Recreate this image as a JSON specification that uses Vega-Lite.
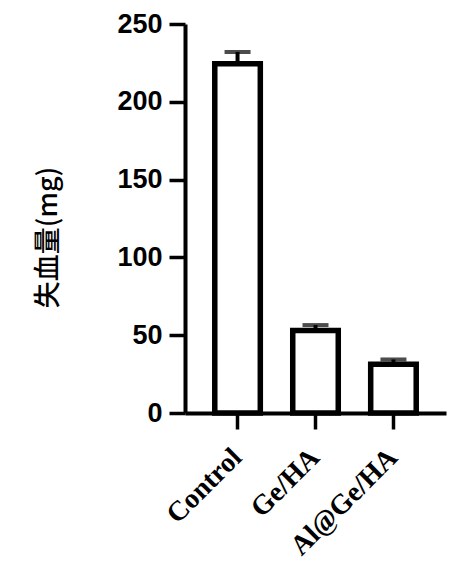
{
  "$schema": "https://vega.github.io/schema/vega-lite/v6.json",
  "autosize": "none",
  "padding": {"left": 185, "top": 24, "right": 3, "bottom": 152},
  "width": 261,
  "height": 389,
  "background": "white",
  "config": {"view": {"stroke": null}},
  "data": {"values": [
    {"group": "Control", "mean": 224.5, "upper": 232},
    {"group": "Ge/HA", "mean": 53, "upper": 56.5},
    {"group": "Al@Ge/HA", "mean": 31.3, "upper": 34.4}
  ]},
  "encoding": {
    "x": {
      "field": "group", "type": "nominal", "sort": null,
      "scale": {"paddingInner": 0.416, "paddingOuter": 0.382},
      "axis": {
        "title": null, "labelAngle": -45, "labelAlign": "right", "labelBaseline": "middle",
        "labelFont": "Liberation Serif", "labelFontWeight": "bold", "labelFontSize": 28,
        "labelColor": "black", "labelPadding": 24, "labelOverlap": false, "labelLimit": 300,
        "tickSize": 16, "tickWidth": 3.5, "tickColor": "black",
        "domainWidth": 4, "domainColor": "black", "grid": false
      }
    }
  },
  "layer": [
    {
      "mark": {"type": "rule", "color": "black", "strokeWidth": 4},
      "encoding": {
        "y": {"field": "mean", "type": "quantitative"},
        "y2": {"field": "upper"}
      }
    },
    {
      "mark": {"type": "tick", "color": "black", "size": 26, "thickness": 4},
      "encoding": {
        "y": {"field": "upper", "type": "quantitative"}
      }
    },
    {
      "mark": {"type": "bar", "fill": "white", "stroke": "black", "strokeWidth": 5.5},
      "encoding": {
        "y": {
          "field": "mean", "type": "quantitative",
          "scale": {"domain": [0, 250], "nice": false},
          "axis": {
            "values": [0, 50, 100, 150, 200, 250],
            "title": "失血量(mg)",
            "titleFont": "Noto Sans CJK SC", "titleFontSize": 27, "titleFontWeight": 500,
            "titleColor": "black", "titleAngle": -90, "titleX": -137, "titleY": 213,
            "titleAlign": "center", "titleBaseline": "middle",
            "labelFont": "Liberation Sans", "labelFontWeight": "bold", "labelFontSize": 27,
            "labelColor": "black", "labelPadding": 7,
            "tickSize": 16, "tickWidth": 3.5, "tickColor": "black",
            "domainWidth": 4, "domainColor": "black", "grid": false
          }
        }
      }
    }
  ]
}
